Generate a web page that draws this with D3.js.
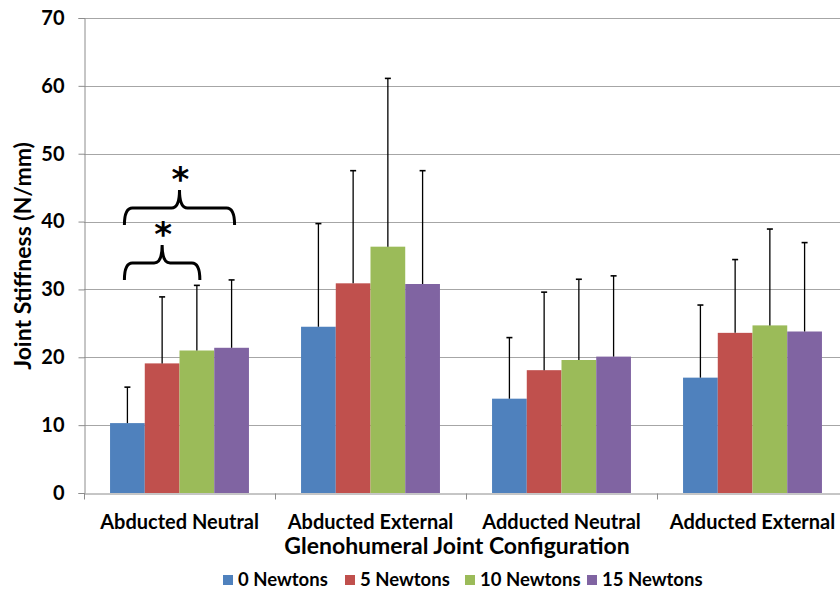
<!DOCTYPE html>
<html>
<head>
<meta charset="utf-8">
<script src="https://cdn.jsdelivr.net/npm/d3@7"></script>
<style>
  body { margin: 0; background: #fff; }
  svg { display: block; font-family: Lato, "Open Sans", sans-serif; font-weight: bold; }
</style>
</head>
<body>
<div id="chart"></div>
<script>
// --- data ---
const categories = ["Abducted Neutral", "Abducted External", "Adducted Neutral", "Adducted External"];
const seriesNames = ["0 Newtons", "5 Newtons", "10 Newtons", "15 Newtons"];
const seriesColors = ["#4F81BD", "#C0504D", "#9BBB59", "#8064A2"];

// mean stiffness per series, one value per category
const means0  = [10.3, 24.5, 13.9, 17.0];
const means5  = [19.1, 30.9, 18.1, 23.6];
const means10 = [21.0, 36.3, 19.6, 24.7];
const means15 = [21.4, 30.8, 20.1, 23.8];

// upper end of error bar (mean + SD)
const upper0  = [15.6, 39.7, 22.9, 27.7];
const upper5  = [28.9, 47.5, 29.6, 34.4];
const upper10 = [30.6, 61.1, 31.5, 38.9];
const upper15 = [31.4, 47.5, 32.0, 36.9];

const yTicks = [0, 10, 20, 30, 40, 50, 60, 70];

// significance brackets (group "Abducted Neutral")
const brackets = [
  { category: "Abducted Neutral", from: "0 Newtons", to: "15 Newtons", level: 42.0 },
  { category: "Abducted Neutral", from: "0 Newtons", to: "10 Newtons", level: 33.9 }
];

const means = [means0, means5, means10, means15];
const uppers = [upper0, upper5, upper10, upper15];

const width = 840, height = 591;
const margin = { left: 84, top: 18, right: -8, bottom: 98 };

const svg = d3.select("#chart").append("svg")
  .attr("width", width)
  .attr("height", height);

const x0 = d3.scaleBand()
  .domain(categories)
  .range([margin.left, width - margin.right]);

// Excel-like gap width 150%
const step = x0.bandwidth();
const barW = step / 5.5;
const x1 = d3.scaleBand()
  .domain(seriesNames)
  .range([barW * 0.75, step - barW * 0.75]);

const y = d3.scaleLinear()
  .domain([0, 70])
  .range([height - margin.bottom, margin.top]);

// gridlines
svg.append("g")
  .selectAll("line")
  .data(yTicks.filter(d => d > 0))
  .join("line")
  .attr("x1", margin.left)
  .attr("x2", width - margin.right)
  .attr("y1", d => Math.round(y(d)) + 0.5)
  .attr("y2", d => Math.round(y(d)) + 0.5)
  .attr("stroke", "#a6a6a6")
  .attr("stroke-width", 1.2);

// y axis
const yAxis = svg.append("g")
  .attr("transform", `translate(${margin.left + 0.5},0)`)
  .call(d3.axisLeft(y).tickValues(yTicks).tickSize(6).tickPadding(14));
yAxis.select(".domain").attr("stroke", "#8c8c8c");
yAxis.selectAll(".tick line").attr("stroke", "#8c8c8c");
yAxis.selectAll(".tick text")
  .attr("fill", "#000")
  .style("font-family", "Lato, sans-serif")
  .style("font-weight", "bold")
  .style("font-size", "20px");

// x axis
const xAxis = svg.append("g")
  .attr("transform", `translate(0,${Math.round(y(0)) + 0.5})`)
  .call(d3.axisBottom(x0).tickSize(0).tickPadding(21));
xAxis.select(".domain").attr("stroke", "#8c8c8c");
xAxis.selectAll(".tick text")
  .attr("fill", "#000")
  .style("font-family", "Lato, sans-serif")
  .style("font-weight", "bold")
  .style("font-size", "20px");
// category boundary ticks
xAxis.append("g")
  .selectAll("line")
  .data(categories)
  .join("line")
  .attr("x1", d => Math.round(x0(d)) + 0.5)
  .attr("x2", d => Math.round(x0(d)) + 0.5)
  .attr("y1", 0)
  .attr("y2", 6)
  .attr("stroke", "#8c8c8c");

// bars
const groups = svg.append("g")
  .selectAll("g")
  .data(categories)
  .join("g")
  .attr("transform", d => `translate(${x0(d)},0)`);

groups.selectAll("rect")
  .data((c, ci) => seriesNames.map((s, si) => ({ s, si, v: means[si][ci], u: uppers[si][ci] })))
  .join("rect")
  .attr("x", d => x1(d.s))
  .attr("width", x1.bandwidth())
  .attr("y", d => y(d.v))
  .attr("height", d => y(0) - y(d.v))
  .attr("fill", d => seriesColors[d.si]);

// error bars (upper only)
const err = groups.selectAll("g.err")
  .data((c, ci) => seriesNames.map((s, si) => ({ s, si, v: means[si][ci], u: uppers[si][ci] })))
  .join("g")
  .attr("class", "err");

err.append("line")
  .attr("x1", d => x1(d.s) + x1.bandwidth() / 2)
  .attr("x2", d => x1(d.s) + x1.bandwidth() / 2)
  .attr("y1", d => y(d.v))
  .attr("y2", d => y(d.u))
  .attr("stroke", "#000")
  .attr("stroke-width", 1.3);

err.append("line")
  .attr("x1", d => x1(d.s) + x1.bandwidth() / 2 - 3)
  .attr("x2", d => x1(d.s) + x1.bandwidth() / 2 + 3)
  .attr("y1", d => y(d.u))
  .attr("y2", d => y(d.u))
  .attr("stroke", "#000")
  .attr("stroke-width", 1.6);

// significance braces
function bracePath(xa, xb, yh) {
  const xc = (xa + xb) / 2;
  const drop = 17, rise = 18, r = 8;
  return `M${xa},${yh + drop} Q${xa},${yh} ${xa + r},${yh}` +
    ` L${xc - r},${yh} Q${xc},${yh} ${xc},${yh - rise}` +
    ` Q${xc},${yh} ${xc + r},${yh} L${xb - r},${yh} Q${xb},${yh} ${xb},${yh + drop}`;
}

brackets.forEach(b => {
  const gx = x0(b.category);
  const xa = gx + x1(b.from) + x1.bandwidth() / 2 - 3;
  const xb = gx + x1(b.to) + x1.bandwidth() / 2 + 3;
  const yh = y(b.level);
  svg.append("path")
    .attr("d", bracePath(xa, xb, yh))
    .attr("fill", "none")
    .attr("stroke", "#000")
    .attr("stroke-width", 3);
  svg.append("text")
    .attr("x", (xa + xb) / 2 + 1)
    .attr("y", yh - 17)
    .attr("text-anchor", "middle")
    .style("font-family", "'DejaVu Sans', sans-serif")
    .style("font-size", "34px")
    .style("font-weight", "bold")
    .text("*");
});

// axis titles
svg.append("text")
  .attr("transform", `translate(31,${256}) rotate(-90)`)
  .attr("text-anchor", "middle")
  .style("font-size", "23px")
  .text("Joint Stiffness (N/mm)");

svg.append("text")
  .attr("x", 457)
  .attr("y", 554)
  .attr("text-anchor", "middle")
  .style("font-size", "23px")
  .text("Glenohumeral Joint Configuration");

// legend
const legendX = [223, 345, 465, 587];
const legend = svg.append("g")
  .selectAll("g")
  .data(seriesNames)
  .join("g")
  .attr("transform", (d, i) => `translate(${legendX[i]},${575})`);

legend.append("rect")
  .attr("width", 10)
  .attr("height", 10)
  .attr("fill", (d, i) => seriesColors[i]);

legend.append("text")
  .attr("x", 15)
  .attr("y", 11)
  .style("font-size", "18.5px")
  .text(d => d);
</script>
</body>
</html>
